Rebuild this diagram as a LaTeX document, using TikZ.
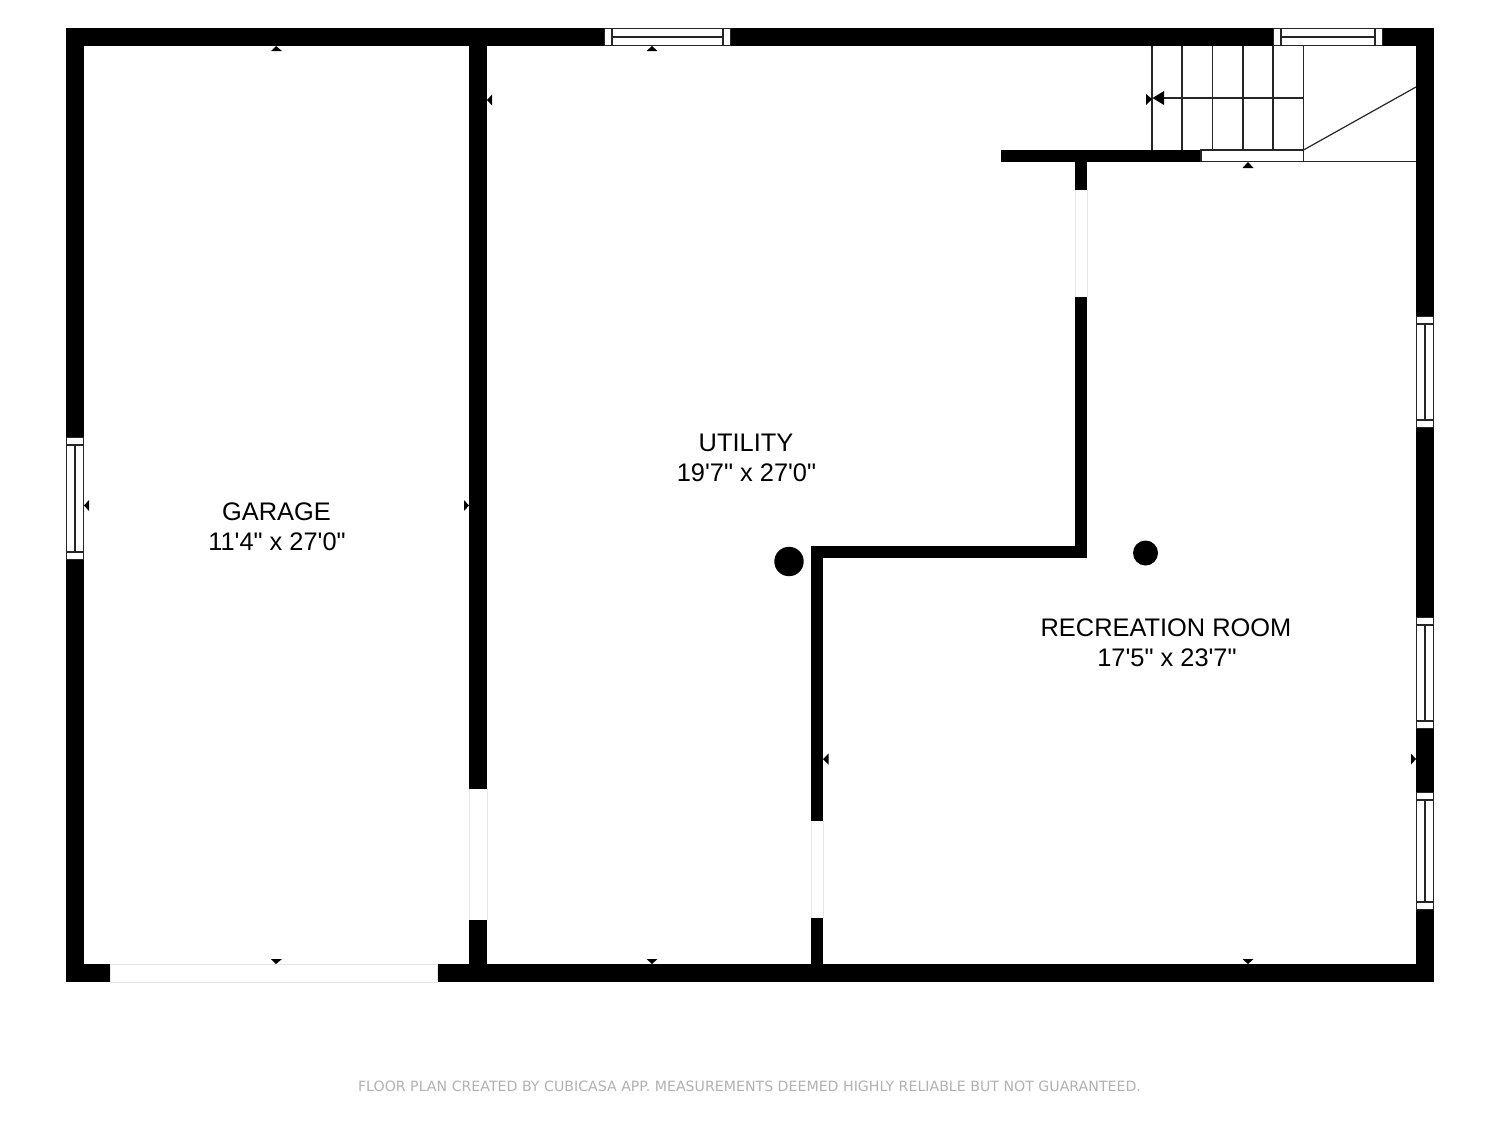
\documentclass[tikz,border=0pt]{standalone}
\usepackage{fontspec}
\newfontfamily\labelfont{Liberation Sans}
\newfontfamily\notefont{DejaVu Sans}
\definecolor{faint}{gray}{0.9}
\definecolor{notegrey}{gray}{0.70}
\tikzset{
  x=1pt,y=-1pt,
  wallfill/.style={fill=black,draw=none},
  winframe/.style={draw=black!85,line width=1.1pt,fill=white},
  fineline/.style={draw=black!85,line width=1.2pt},
  opening/.style={draw=faint,line width=0.8pt,fill=white},
  tick/.style={fill=black,draw=none},
  roomlabel/.style={font=\labelfont\fontsize{25.4}{30}\selectfont,inner sep=0pt,anchor=center},
  notelabel/.style={font=\notefont\fontsize{14.16}{16}\selectfont,text=notegrey,inner sep=0pt,anchor=center}
}
\newcommand{\hwin}[4]{% x1 x2 y1 y2
  \filldraw[winframe] (#1+.5,#3+.5) rectangle (#2-.5,#4-.5);
  \draw[fineline] (#1+8,#3) -- (#1+8,#4) (#2-8,#3) -- (#2-8,#4) (#1+8,{(#3+#4)/2}) -- (#2-8,{(#3+#4)/2});}
\newcommand{\vwin}[4]{% x1 x2 y1 y2
  \filldraw[winframe] (#1+.5,#3+.5) rectangle (#2-.5,#4-.5);
  \draw[fineline] (#1,#3+8) -- (#2,#3+8) (#1,#4-8) -- (#2,#4-8) ({(#1+#2)/2},#3+8) -- ({(#1+#2)/2},#4-8);}
\begin{document}
\begin{tikzpicture}
\useasboundingbox (0,0) rectangle (1500,1125);
\fill[white] (0,0) rectangle (1500,1125);
% outer walls
\fill[wallfill] (66,28) rectangle (1434,46);
\fill[wallfill] (66,964) rectangle (1434,982);
\fill[wallfill] (66,28) rectangle (84,982);
\fill[wallfill] (1416,28) rectangle (1434,982);
% inner walls
\fill[wallfill] (469,46) rectangle (487,789);
\fill[wallfill] (469,920) rectangle (487,964);
\fill[wallfill] (811,546) rectangle (823,821);
\fill[wallfill] (811,918) rectangle (823,964);
\fill[wallfill] (811,546) rectangle (1087,558);
\fill[wallfill] (1075,297) rectangle (1087,558);
\fill[wallfill] (1075,150) rectangle (1087,190);
\fill[wallfill] (1001,150) rectangle (1201,162);
% door openings
\filldraw[opening] (110,964) rectangle (437,982);
\fill[white] (469,789) rectangle (487,920);
\draw[faint,line width=0.6pt] (469,789) -- (469,920) (487,789) -- (487,920);
\fill[white] (811,821) rectangle (823,918);
\draw[faint,line width=0.6pt] (811,821) -- (811,918) (823,821) -- (823,918);
\fill[white] (1075,190) rectangle (1087,297);
\draw[faint,line width=0.6pt] (1075,190) -- (1075,297) (1087,190) -- (1087,297);
% windows
\hwin{604}{731}{28}{46}
\hwin{1273}{1383}{28}{46}
\vwin{66}{84}{437}{560}
\vwin{1416}{1434}{316}{428}
\vwin{1416}{1434}{617}{729}
\vwin{1416}{1434}{792}{910}
% stairs
\draw[fineline] (1152,46) -- (1152,150) (1182,46) -- (1182,150) (1212.5,46) -- (1212.5,150)
  (1243,46) -- (1243,150) (1273,46) -- (1273,150) (1303.5,46) -- (1303.5,150);
\draw[fineline] (1164,98) -- (1304,98);
\fill[tick] (1152.5,98) -- (1164,91) -- (1164,105) -- cycle;
\fill[tick] (1152,99) -- (1146,94) -- (1146,105) -- cycle;
\filldraw[winframe] (1201,150) rectangle (1303.5,161.5);
\draw[fineline] (1303.5,150) -- (1416,87);
\draw[fineline] (1303.5,161.5) -- (1416,161.5);
% pillars
\fill[black] (789,561.5) circle (14.7);
\fill[black] (1145.5,553) circle (12.5);
% measurement ticks
\fill[tick] (276,46) -- (271,51) -- (282,51) -- cycle;
\fill[tick] (652,46) -- (646.5,51) -- (657.5,51) -- cycle;
\fill[tick] (1248,162) -- (1242.5,168) -- (1253.5,168) -- cycle;
\fill[tick] (276,964) -- (271,959) -- (282,959) -- cycle;
\fill[tick] (652,964) -- (646.5,959) -- (657.5,959) -- cycle;
\fill[tick] (1248,964) -- (1242.5,959) -- (1253.5,959) -- cycle;
\fill[tick] (84,505.5) -- (89,500) -- (89,511) -- cycle;
\fill[tick] (487,100) -- (492,94.5) -- (492,105.5) -- cycle;
\fill[tick] (469,505.5) -- (464,500) -- (464,511) -- cycle;
\fill[tick] (823,759) -- (828.5,753.5) -- (828.5,764.5) -- cycle;
\fill[tick] (1416,759) -- (1411,753.5) -- (1411,764.5) -- cycle;
% labels
\node[roomlabel] (garageA) at (276.5,512) {GARAGE};
\node[roomlabel] (garageB) at (277,542) {11'4" x 27'0"};
\node[roomlabel] (utilA) at (746,443) {UTILITY};
\node[roomlabel] (utilB) at (746.5,473) {19'7" x 27'0"};
\node[roomlabel] (recA) at (1166,628) {RECREATION ROOM};
\node[roomlabel] (recB) at (1167,658) {17'5" x 23'7"};
\node[notelabel] (credit) at (749.5,1086) {FLOOR PLAN CREATED BY CUBICASA APP. MEASUREMENTS DEEMED HIGHLY RELIABLE BUT NOT GUARANTEED.};
\end{tikzpicture}
\end{document}
